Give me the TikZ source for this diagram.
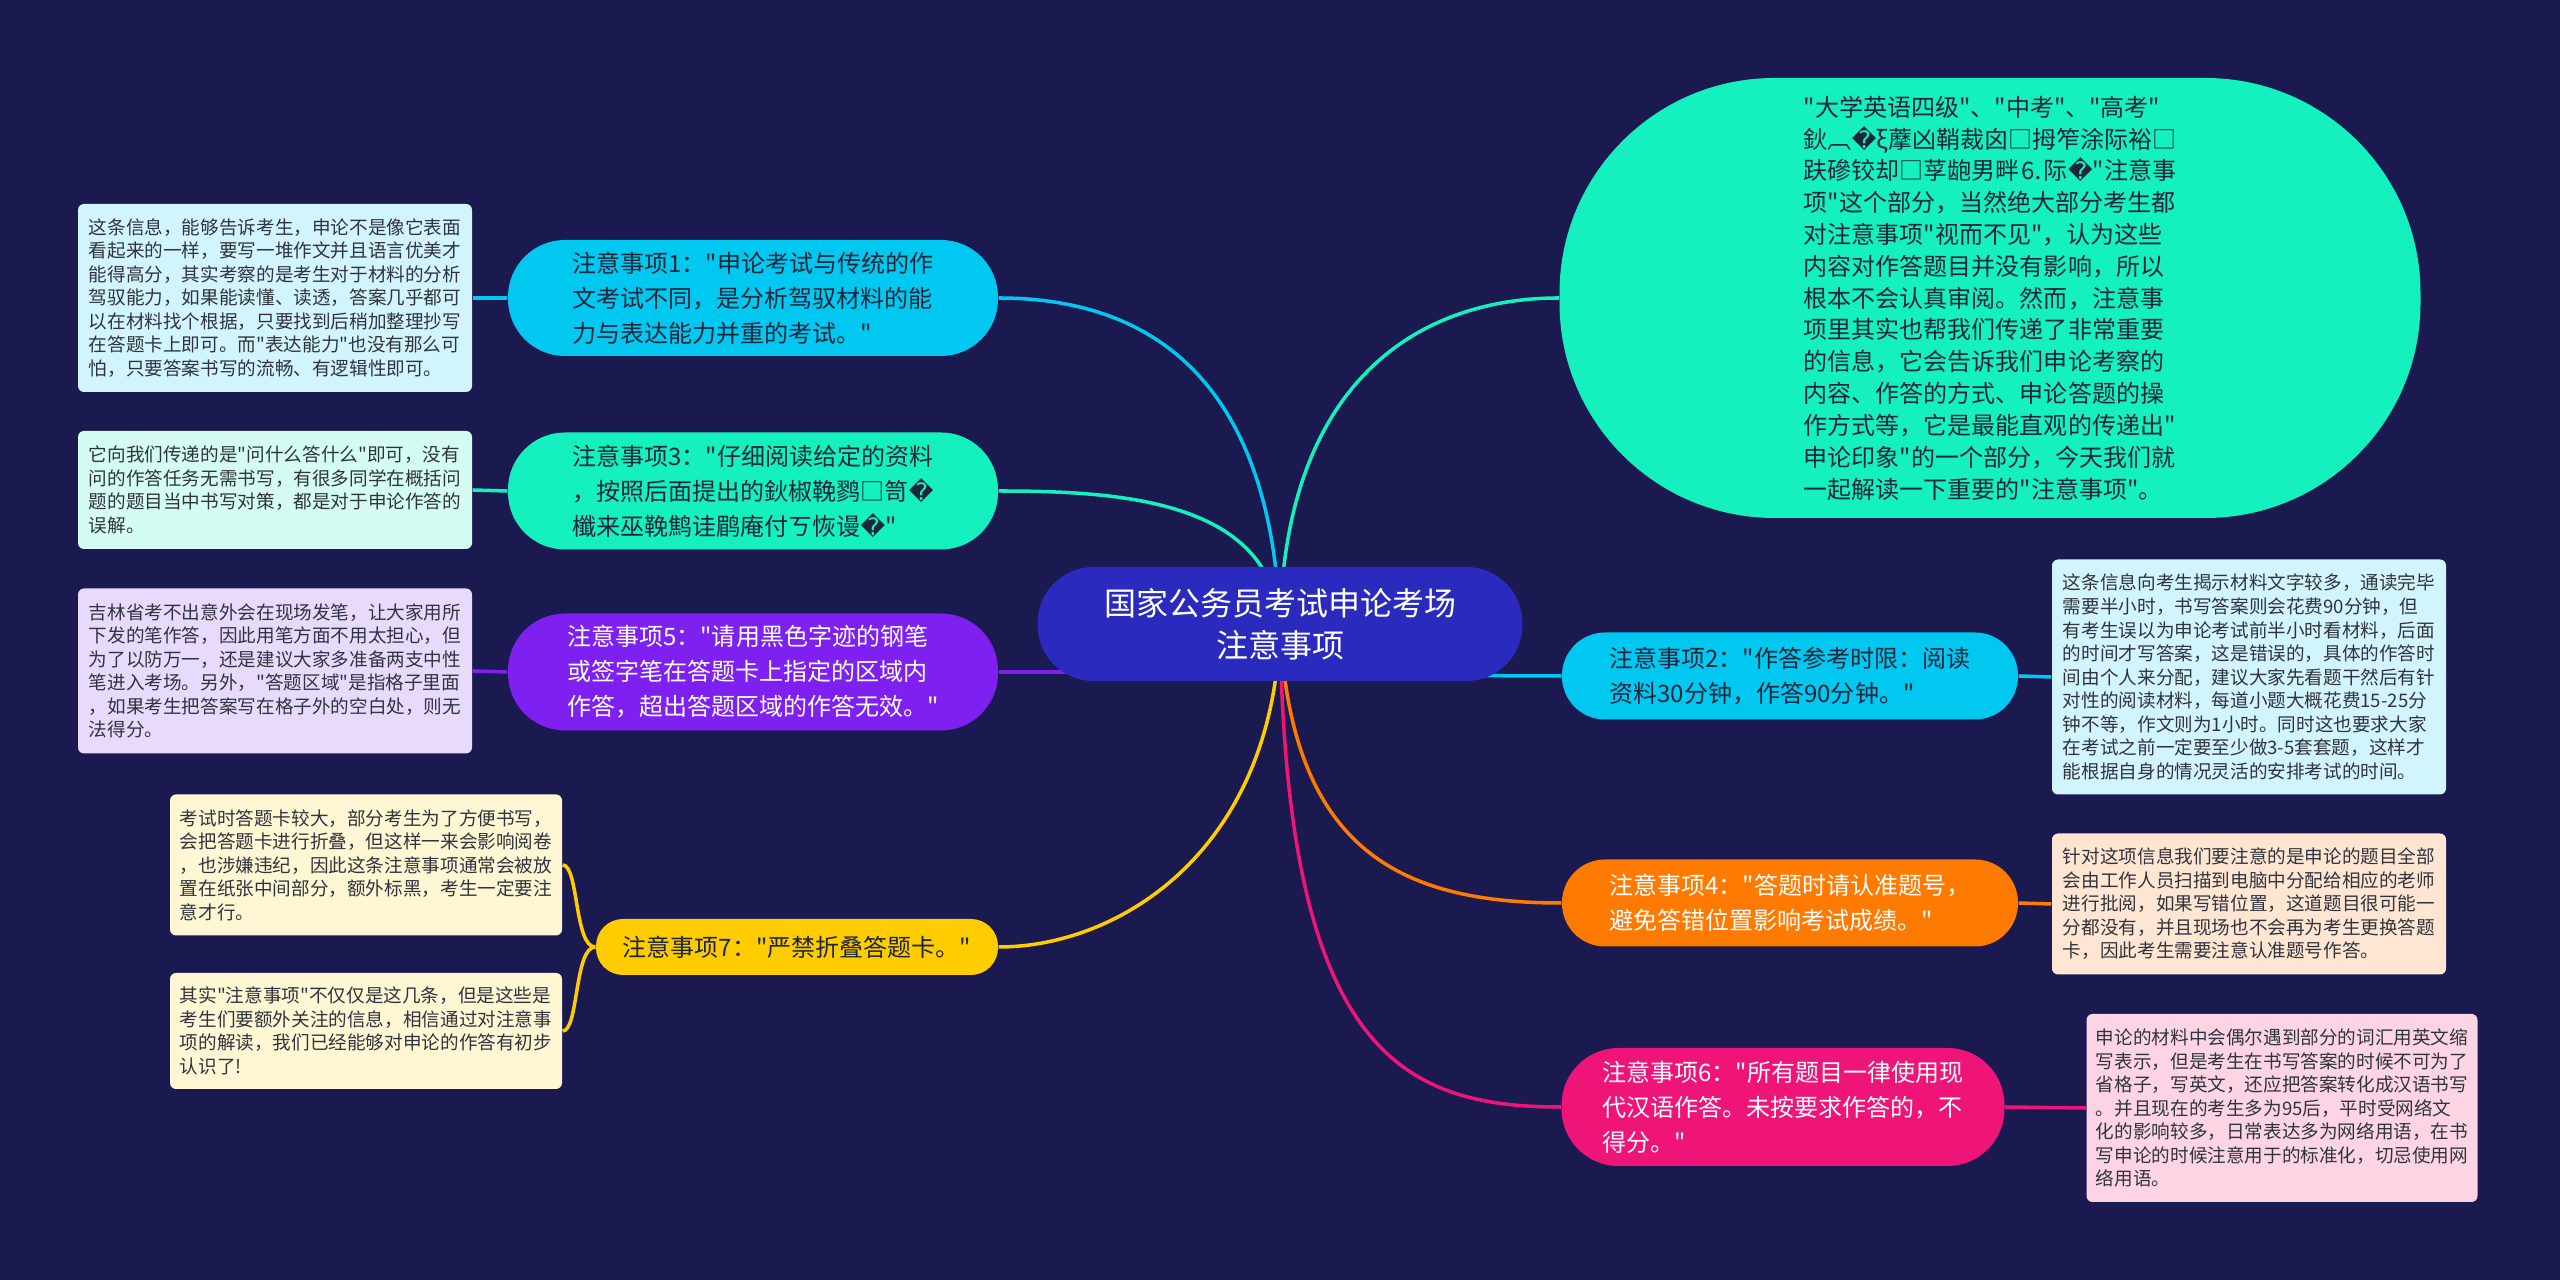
\documentclass[tikz,border=0pt]{standalone}
\usepackage{fontspec}
\newfontfamily\cjkfont{Noto Sans CJK SC}
\newfontfamily\dejavu{DejaVu Sans}
\usepackage{tikz}
\usetikzlibrary{backgrounds}

\newlength{\px}
\setlength{\px}{0.01cm}
\newcommand{\qm}{{\dejavu\char"FFFD}}
\newcommand{\hubfont}{\cjkfont\fontsize{9.1pt}{11.95pt}\selectfont}
\newcommand{\tipfont}{\cjkfont\fontsize{6.83pt}{9.96pt}\selectfont}
\newcommand{\memofont}{\cjkfont\fontsize{6.83pt}{9.05pt}\selectfont}
\newcommand{\notefont}{\cjkfont\fontsize{5.29pt}{6.69pt}\selectfont}

\definecolor{bgnavy}{RGB}{27,26,80}
\definecolor{hubblue}{RGB}{42,42,190}
\definecolor{skycyan}{RGB}{0,200,240}
\definecolor{mintteal}{RGB}{20,240,190}
\definecolor{nvviolet}{RGB}{125,32,240}
\definecolor{sunyellow}{RGB}{255,204,0}
\definecolor{tangerine}{RGB}{255,122,0}
\definecolor{hotpink}{RGB}{238,20,120}
\definecolor{inkdark}{RGB}{28,38,58}
\definecolor{leafink}{RGB}{48,52,62}
\definecolor{cyanleaf}{RGB}{210,244,252}
\definecolor{tealleaf}{RGB}{212,252,242}
\definecolor{violetleaf}{RGB}{232,218,252}
\definecolor{yellowleaf}{RGB}{255,246,212}
\definecolor{orangeleaf}{RGB}{255,230,210}
\definecolor{pinkleaf}{RGB}{252,212,228}

\tikzset{
    tip/.style={
        inner sep=0pt,
        align=left,
        font=\tipfont,
        text=inkdark
    },
    note/.style={
        fill=#1,
        text=leafink,
        inner sep=0pt,
        align=left,
        font=\notefont,
        rounded corners=6\px,
        minimum width=394\px
    },
    link/.style={
        line width=1pt
    }
}

\begin{document}
\begin{tikzpicture}[x=0.01cm, y=-0.01cm]

% Fons
\begin{scope}[on background layer]
\fill[bgnavy] (0,0) rectangle (2560,1280);
\end{scope}
\useasboundingbox (0,0) rectangle (2560,1280);

% Node central
\node[
    tip,
    fill=hubblue,
    text=white,
    align=center,
    font=\hubfont,
    minimum width=485\px,
    minimum height=114\px,
    rounded corners=56\px
] (hub) at (1280,624) {国家公务员考试申论考场\\注意事项};

% Branques de l'esquerra
\node[
    tip,
    fill=skycyan,
    minimum width=490\px,
    minimum height=116\px,
    rounded corners=57\px
] (tip1) at (753,298) {注意事项1："申论考试与传统的作\\文考试不同，是分析驾驭材料的能\\力与表达能力并重的考试。"};

\node[
    tip,
    fill=mintteal,
    minimum width=490\px,
    minimum height=117\px,
    rounded corners=57\px
] (tip3) at (753,491) {注意事项3："仔细阅读给定的资料\\，按照后面提出的鈥椒鞔鹨□笥\qm\\櫼来巫鞔鹪诖鹛庵付ㄎ恢谩\qm"};

\node[
    tip,
    fill=nvviolet,
    text=white,
    minimum width=490\px,
    minimum height=117\px,
    rounded corners=57\px
] (tip5) at (753,672) {注意事项5："请用黑色字迹的钢笔\\或签字笔在答题卡上指定的区域内\\作答，超出答题区域的作答无效。"};

\node[
    tip,
    fill=sunyellow,
    minimum width=402\px,
    minimum height=56\px,
    rounded corners=27\px
] (tip7) at (797,947) {注意事项7："严禁折叠答题卡。"};

% Branques de la dreta
\node[
    tip,
    fill=mintteal,
    font=\memofont,
    minimum width=861\px,
    minimum height=440\px,
    rounded corners=215\px
] (memo) at (1990,298) {"大学英语四级"、"中考"、"高考"\\鈥︹\qm ξ藦凶鞘裁囟□拇笮涂际裕□\\趺磣铰却□莩龅男畔⒍际\qm"注意事\\项"这个部分，当然绝大部分考生都\\对注意事项"视而不见"，认为这些\\内容对作答题目并没有影响，所以\\根本不会认真审阅。然而，注意事\\项里其实也帮我们传递了非常重要\\的信息，它会告诉我们申论考察的\\内容、作答的方式、申论答题的操\\作方式等，它是最能直观的传递出"\\申论印象"的一个部分，今天我们就\\一起解读一下重要的"注意事项"。};

\node[
    tip,
    fill=skycyan,
    minimum width=456\px,
    minimum height=87\px,
    rounded corners=43\px
] (tip2) at (1790,676) {注意事项2："作答参考时限：阅读\\资料30分钟，作答90分钟。"};

\node[
    tip,
    fill=tangerine,
    text=white,
    minimum width=456\px,
    minimum height=87\px,
    rounded corners=43\px
] (tip4) at (1790,903) {注意事项4："答题时请认准题号，\\避免答错位置影响考试成绩。"};

\node[
    tip,
    fill=hotpink,
    text=white,
    minimum width=443\px,
    minimum height=118\px,
    rounded corners=57\px
] (tip6) at (1783,1107) {注意事项6："所有题目一律使用现\\代汉语作答。未按要求作答的，不\\得分。"};

% Fulles
\node[note=cyanleaf, minimum height=188\px] (note1) at (275,298) {这条信息，能够告诉考生，申论不是像它表面\\看起来的一样，要写一堆作文并且语言优美才\\能得高分，其实考察的是考生对于材料的分析\\驾驭能力，如果能读懂、读透，答案几乎都可\\以在材料找个根据，只要找到后稍加整理抄写\\在答题卡上即可。而"表达能力"也没有那么可\\怕，只要答案书写的流畅、有逻辑性即可。};

\node[note=tealleaf, minimum height=118\px] (note3) at (275,490) {它向我们传递的是"问什么答什么"即可，没有\\问的作答任务无需书写，有很多同学在概括问\\题的题目当中书写对策，都是对于申论作答的\\误解。};

\node[note=violetleaf, minimum height=165\px] (note5) at (275,671) {吉林省考不出意外会在现场发笔，让大家用所\\下发的笔作答，因此用笔方面不用太担心，但\\为了以防万一，还是建议大家多准备两支中性\\笔进入考场。另外，"答题区域"是指格子里面\\，如果考生把答案写在格子外的空白处，则无\\法得分。};

\node[note=yellowleaf, minimum height=141\px, minimum width=392\px] (note7a) at (366,865) {考试时答题卡较大，部分考生为了方便书写，\\会把答题卡进行折叠，但这样一来会影响阅卷\\，也涉嫌违纪，因此这条注意事项通常会被放\\置在纸张中间部分，额外标黑，考生一定要注\\意才行。};

\node[note=yellowleaf, minimum height=116\px, minimum width=392\px] (note7b) at (366,1031) {其实"注意事项"不仅仅是这几条，但是这些是\\考生们要额外关注的信息，相信通过对注意事\\项的解读，我们已经能够对申论的作答有初步\\认识了!};

\node[note=cyanleaf, minimum height=235\px] (note2) at (2249,677) {这条信息向考生揭示材料文字较多，通读完毕\\需要半小时，书写答案则会花费90分钟，但\\有考生误以为申论考试前半小时看材料，后面\\的时间才写答案，这是错误的，具体的作答时\\间由个人来分配，建议大家先看题干然后有针\\对性的阅读材料，每道小题大概花费15-25分\\钟不等，作文则为1小时。同时这也要求大家\\在考试之前一定要至少做3-5套套题，这样才\\能根据自身的情况灵活的安排考试的时间。};

\node[note=orangeleaf, minimum height=141\px] (note4) at (2249,904) {针对这项信息我们要注意的是申论的题目全部\\会由工作人员扫描到电脑中分配给相应的老师\\进行批阅，如果写错位置，这道题目很可能一\\分都没有，并且现场也不会再为考生更换答题\\卡，因此考生需要注意认准题号作答。};

\node[note=pinkleaf, minimum height=188\px, minimum width=391\px] (note6) at (2282,1108) {申论的材料中会偶尔遇到部分的词汇用英文缩\\写表示，但是考生在书写答案的时候不可为了\\省格子，写英文，还应把答案转化成汉语书写\\。并且现在的考生多为95后，平时受网络文\\化的影响较多，日常表达多为网络用语，在书\\写申论的时候注意用于的标准化，切忌使用网\\络用语。};

% Connexions
\begin{scope}[on background layer]
\draw[link, skycyan] (hub.center) .. controls (1270,350) and (1120,298) .. (tip1.east);
\draw[link, mintteal] (hub.center) .. controls (1270,500) and (1120,491) .. (tip3.east);
\draw[link, nvviolet] (tip5.east) -- (tip5.east -| hub.center);
\draw[link, sunyellow] (hub.center) .. controls (1275,850) and (1120,947) .. (tip7.east);
\draw[link, mintteal] (hub.center) .. controls (1285,380) and (1420,298) .. (memo.west);
\draw[link, skycyan] (hub.center) .. controls (1300,676) and (1450,676) .. (tip2.west);
\draw[link, tangerine] (hub.center) .. controls (1290,850) and (1400,903) .. (tip4.west);
\draw[link, hotpink] (hub.center) .. controls (1285,1050) and (1400,1107) .. (tip6.west);

\draw[link, skycyan] (tip1.west) -- (note1.east);
\draw[link, mintteal] (tip3.west) -- (note3.east);
\draw[link, nvviolet] (tip5.west) -- (note5.east);
\draw[link, sunyellow] (tip7.west) .. controls +(-21,0) and +(16,0) .. (note7a.east);
\draw[link, sunyellow] (tip7.west) .. controls +(-21,0) and +(16,0) .. (note7b.east);
\draw[link, skycyan] (tip2.east) -- (note2.west);
\draw[link, tangerine] (tip4.east) -- (note4.west);
\draw[link, hotpink] (tip6.east) -- (note6.west);
\end{scope}

\end{tikzpicture}
\end{document}
